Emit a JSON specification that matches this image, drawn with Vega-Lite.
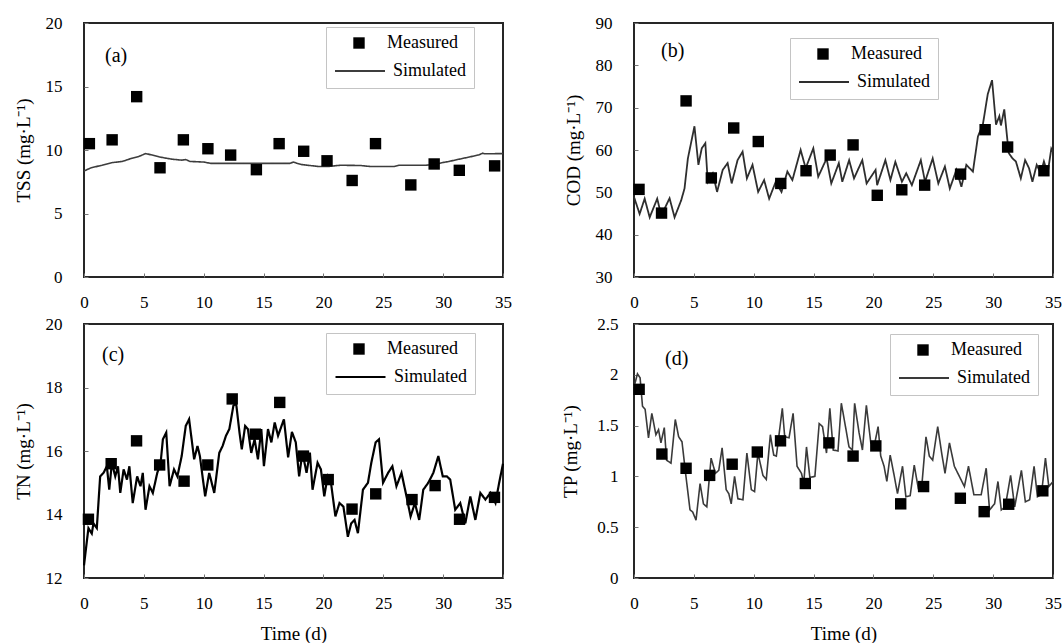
{
  "$schema": "https://vega.github.io/schema/vega-lite/v6.json",
  "background": "white",
  "padding": {"left": 13, "top": 13, "right": 0, "bottom": 0},
  "columns": 2,
  "spacing": {"row": 47, "column": 131},
  "bounds": "flush",
  "resolve": {"scale": {"shape": "independent", "strokeDash": "independent", "x": "independent", "y": "independent"}, "legend": {"shape": "independent", "strokeDash": "independent"}},
  "datasets": {
    "a_meas": [
      {"t": 0.45, "v": 10.5}, {"t": 2.35, "v": 10.8}, {"t": 4.4, "v": 14.2}, {"t": 6.35, "v": 8.6}, {"t": 8.3, "v": 10.8}, {"t": 10.35, "v": 10.1}, {"t": 12.25, "v": 9.6}, {"t": 14.4, "v": 8.45}, {"t": 16.3, "v": 10.5}, {"t": 18.35, "v": 9.9}, {"t": 20.3, "v": 9.15}, {"t": 22.4, "v": 7.6}, {"t": 24.35, "v": 10.5}, {"t": 27.3, "v": 7.25}, {"t": 29.25, "v": 8.9}, {"t": 31.35, "v": 8.4}, {"t": 34.3, "v": 8.75}
    ],
    "a_sim": [
      {"t": 0, "v": 8.35}, {"t": 0.6, "v": 8.6}, {"t": 1.5, "v": 8.8}, {"t": 2.3, "v": 9.0}, {"t": 3.2, "v": 9.1}, {"t": 4.0, "v": 9.35}, {"t": 4.6, "v": 9.5}, {"t": 5.15, "v": 9.72}, {"t": 5.7, "v": 9.6}, {"t": 6.3, "v": 9.45}, {"t": 7.4, "v": 9.27}, {"t": 8.2, "v": 9.2}, {"t": 8.5, "v": 9.25}, {"t": 8.85, "v": 9.1}, {"t": 10.0, "v": 9.05}, {"t": 10.6, "v": 8.95}, {"t": 12.8, "v": 8.95}, {"t": 15.0, "v": 8.95}, {"t": 17.2, "v": 8.95}, {"t": 17.5, "v": 9.05}, {"t": 17.8, "v": 8.95}, {"t": 18.2, "v": 8.85}, {"t": 19.6, "v": 8.7}, {"t": 20.4, "v": 8.7}, {"t": 21.4, "v": 8.8}, {"t": 23.1, "v": 8.78}, {"t": 23.9, "v": 8.7}, {"t": 25.9, "v": 8.7}, {"t": 26.3, "v": 8.8}, {"t": 28.5, "v": 8.8}, {"t": 29.3, "v": 8.85}, {"t": 29.9, "v": 9.0}, {"t": 30.5, "v": 9.1}, {"t": 31.3, "v": 9.27}, {"t": 32.2, "v": 9.45}, {"t": 33.0, "v": 9.62}, {"t": 33.3, "v": 9.75}, {"t": 33.5, "v": 9.7}, {"t": 35, "v": 9.72}
    ],
    "b_meas": [
      {"t": 0.42, "v": 50.7}, {"t": 2.3, "v": 45.1}, {"t": 4.35, "v": 71.6}, {"t": 6.46, "v": 53.4}, {"t": 8.33, "v": 65.2}, {"t": 10.38, "v": 62.0}, {"t": 12.26, "v": 52.1}, {"t": 14.37, "v": 55.1}, {"t": 16.39, "v": 58.8}, {"t": 18.3, "v": 61.2}, {"t": 20.32, "v": 49.3}, {"t": 22.37, "v": 50.6}, {"t": 24.28, "v": 51.7}, {"t": 27.28, "v": 54.3}, {"t": 29.33, "v": 64.8}, {"t": 31.21, "v": 60.7}, {"t": 34.24, "v": 55.1}
    ],
    "b_sim": [
      {"t": 0, "v": 48.9}, {"t": 0.47, "v": 44.9}, {"t": 0.89, "v": 48.5}, {"t": 1.31, "v": 44.1}, {"t": 1.94, "v": 48.5}, {"t": 2.28, "v": 44.5}, {"t": 2.97, "v": 48.6}, {"t": 3.39, "v": 44.1}, {"t": 3.94, "v": 48.1}, {"t": 4.22, "v": 50.9}, {"t": 4.5, "v": 58.0}, {"t": 5.05, "v": 65.6}, {"t": 5.38, "v": 56.5}, {"t": 5.66, "v": 60.4}, {"t": 5.96, "v": 61.6}, {"t": 6.16, "v": 52.5}, {"t": 6.58, "v": 54.5}, {"t": 6.94, "v": 50.1}, {"t": 7.41, "v": 55.3}, {"t": 7.82, "v": 56.9}, {"t": 8.16, "v": 52.1}, {"t": 8.65, "v": 57.6}, {"t": 9.07, "v": 59.6}, {"t": 9.43, "v": 53.3}, {"t": 9.9, "v": 56.5}, {"t": 10.37, "v": 50.1}, {"t": 10.87, "v": 52.9}, {"t": 11.29, "v": 48.5}, {"t": 11.84, "v": 52.5}, {"t": 12.32, "v": 50.1}, {"t": 12.81, "v": 54.9}, {"t": 13.23, "v": 52.9}, {"t": 13.92, "v": 60.0}, {"t": 14.34, "v": 55.7}, {"t": 14.98, "v": 60.4}, {"t": 15.39, "v": 53.7}, {"t": 16.09, "v": 58.0}, {"t": 16.48, "v": 52.1}, {"t": 17.11, "v": 56.9}, {"t": 17.4, "v": 52.5}, {"t": 17.97, "v": 57.6}, {"t": 18.38, "v": 53.3}, {"t": 19.07, "v": 57.6}, {"t": 19.43, "v": 52.1}, {"t": 20.18, "v": 55.3}, {"t": 20.31, "v": 51.7}, {"t": 21.0, "v": 57.6}, {"t": 21.42, "v": 52.9}, {"t": 21.83, "v": 57.2}, {"t": 22.38, "v": 52.5}, {"t": 22.74, "v": 54.5}, {"t": 23.21, "v": 51.7}, {"t": 23.96, "v": 57.6}, {"t": 24.31, "v": 52.5}, {"t": 24.95, "v": 58.0}, {"t": 25.42, "v": 52.1}, {"t": 25.97, "v": 56.1}, {"t": 26.38, "v": 50.9}, {"t": 26.93, "v": 55.3}, {"t": 27.35, "v": 51.3}, {"t": 27.76, "v": 56.5}, {"t": 28.31, "v": 54.9}, {"t": 28.73, "v": 63.2}, {"t": 29.14, "v": 66.0}, {"t": 29.55, "v": 73.2}, {"t": 29.91, "v": 76.5}, {"t": 30.24, "v": 66.0}, {"t": 30.52, "v": 68.0}, {"t": 30.65, "v": 65.8}, {"t": 30.93, "v": 69.6}, {"t": 31.3, "v": 59.3}, {"t": 31.62, "v": 58.0}, {"t": 31.9, "v": 57.3}, {"t": 32.31, "v": 53.3}, {"t": 32.67, "v": 57.6}, {"t": 33.0, "v": 55.7}, {"t": 33.28, "v": 52.5}, {"t": 33.64, "v": 56.5}, {"t": 33.97, "v": 54.5}, {"t": 34.24, "v": 57.3}, {"t": 34.55, "v": 54.5}, {"t": 34.86, "v": 60.3}, {"t": 35, "v": 59.5}
    ],
    "c_meas": [
      {"t": 0.37, "v": 13.85}, {"t": 2.27, "v": 15.6}, {"t": 4.39, "v": 16.32}, {"t": 6.32, "v": 15.56}, {"t": 8.36, "v": 15.05}, {"t": 10.34, "v": 15.56}, {"t": 12.38, "v": 17.64}, {"t": 14.31, "v": 16.53}, {"t": 16.35, "v": 17.53}, {"t": 18.33, "v": 15.84}, {"t": 20.4, "v": 15.1}, {"t": 22.39, "v": 14.17}, {"t": 24.37, "v": 14.65}, {"t": 27.4, "v": 14.47}, {"t": 29.33, "v": 14.91}, {"t": 31.37, "v": 13.85}, {"t": 34.29, "v": 14.54}
    ],
    "c_sim": [
      {"t": 0, "v": 12.4}, {"t": 0.37, "v": 13.57}, {"t": 0.65, "v": 13.4}, {"t": 0.79, "v": 13.72}, {"t": 1.07, "v": 13.57}, {"t": 1.35, "v": 15.2}, {"t": 1.63, "v": 15.31}, {"t": 1.91, "v": 15.52}, {"t": 2.11, "v": 14.78}, {"t": 2.33, "v": 15.63}, {"t": 2.61, "v": 15.2}, {"t": 2.84, "v": 15.52}, {"t": 3.03, "v": 14.68}, {"t": 3.31, "v": 15.42}, {"t": 3.59, "v": 15.1}, {"t": 3.79, "v": 15.52}, {"t": 4.07, "v": 14.36}, {"t": 4.44, "v": 15.2}, {"t": 4.72, "v": 14.89}, {"t": 4.91, "v": 15.31}, {"t": 5.14, "v": 14.15}, {"t": 5.47, "v": 14.89}, {"t": 5.75, "v": 14.68}, {"t": 6.12, "v": 15.31}, {"t": 6.4, "v": 15.63}, {"t": 6.59, "v": 16.37}, {"t": 6.87, "v": 16.58}, {"t": 7.15, "v": 14.89}, {"t": 7.52, "v": 15.42}, {"t": 7.8, "v": 15.2}, {"t": 8.16, "v": 15.84}, {"t": 8.5, "v": 16.79}, {"t": 8.78, "v": 17.0}, {"t": 9.2, "v": 15.74}, {"t": 9.48, "v": 16.16}, {"t": 9.68, "v": 15.84}, {"t": 10.12, "v": 14.57}, {"t": 10.46, "v": 15.31}, {"t": 10.88, "v": 14.68}, {"t": 11.3, "v": 15.94}, {"t": 11.58, "v": 16.16}, {"t": 11.86, "v": 16.48}, {"t": 12.14, "v": 16.69}, {"t": 12.48, "v": 17.43}, {"t": 12.71, "v": 17.49}, {"t": 12.99, "v": 16.58}, {"t": 13.18, "v": 16.05}, {"t": 13.46, "v": 16.79}, {"t": 13.69, "v": 16.69}, {"t": 13.97, "v": 15.94}, {"t": 14.25, "v": 16.37}, {"t": 14.53, "v": 15.74}, {"t": 14.81, "v": 16.69}, {"t": 15.03, "v": 15.52}, {"t": 15.37, "v": 16.69}, {"t": 15.65, "v": 16.27}, {"t": 15.93, "v": 16.9}, {"t": 16.21, "v": 16.48}, {"t": 16.7, "v": 17.0}, {"t": 17.05, "v": 15.8}, {"t": 17.37, "v": 16.6}, {"t": 17.69, "v": 16.27}, {"t": 17.97, "v": 15.2}, {"t": 18.25, "v": 15.95}, {"t": 18.59, "v": 15.31}, {"t": 18.87, "v": 15.95}, {"t": 19.09, "v": 14.78}, {"t": 19.51, "v": 15.63}, {"t": 19.79, "v": 15.42}, {"t": 20.07, "v": 14.57}, {"t": 20.35, "v": 15.2}, {"t": 20.63, "v": 15.0}, {"t": 21.0, "v": 13.94}, {"t": 21.34, "v": 14.36}, {"t": 21.67, "v": 14.25}, {"t": 22.04, "v": 13.3}, {"t": 22.32, "v": 13.72}, {"t": 22.6, "v": 13.83}, {"t": 22.88, "v": 13.41}, {"t": 23.3, "v": 14.78}, {"t": 23.72, "v": 15.0}, {"t": 24.0, "v": 15.63}, {"t": 24.36, "v": 16.27}, {"t": 24.64, "v": 16.37}, {"t": 24.98, "v": 15.0}, {"t": 25.4, "v": 15.31}, {"t": 25.76, "v": 15.52}, {"t": 26.1, "v": 14.89}, {"t": 26.52, "v": 15.31}, {"t": 26.94, "v": 14.57}, {"t": 27.28, "v": 13.94}, {"t": 27.64, "v": 14.36}, {"t": 28.0, "v": 13.83}, {"t": 28.34, "v": 14.78}, {"t": 28.76, "v": 15.0}, {"t": 29.18, "v": 15.31}, {"t": 29.6, "v": 15.84}, {"t": 29.97, "v": 15.2}, {"t": 30.31, "v": 15.2}, {"t": 30.59, "v": 15.1}, {"t": 31.01, "v": 14.15}, {"t": 31.43, "v": 14.36}, {"t": 31.85, "v": 13.72}, {"t": 32.27, "v": 14.57}, {"t": 32.69, "v": 13.83}, {"t": 33.11, "v": 14.68}, {"t": 33.53, "v": 14.47}, {"t": 33.95, "v": 14.68}, {"t": 34.37, "v": 14.36}, {"t": 34.68, "v": 15.0}, {"t": 35, "v": 15.6}
    ],
    "d_meas": [
      {"t": 0.43, "v": 1.857}, {"t": 2.33, "v": 1.22}, {"t": 4.35, "v": 1.08}, {"t": 6.32, "v": 1.01}, {"t": 8.2, "v": 1.12}, {"t": 10.3, "v": 1.24}, {"t": 12.24, "v": 1.35}, {"t": 14.31, "v": 0.93}, {"t": 16.28, "v": 1.33}, {"t": 18.3, "v": 1.2}, {"t": 20.2, "v": 1.3}, {"t": 22.28, "v": 0.73}, {"t": 24.19, "v": 0.9}, {"t": 27.26, "v": 0.785}, {"t": 29.25, "v": 0.653}, {"t": 31.3, "v": 0.726}, {"t": 34.15, "v": 0.858}
    ],
    "d_sim": [
      {"t": 0, "v": 1.88}, {"t": 0.29, "v": 2.01}, {"t": 0.51, "v": 1.97}, {"t": 0.71, "v": 1.69}, {"t": 0.93, "v": 1.66}, {"t": 1.21, "v": 1.38}, {"t": 1.49, "v": 1.62}, {"t": 1.83, "v": 1.41}, {"t": 2.05, "v": 1.46}, {"t": 2.25, "v": 1.33}, {"t": 2.53, "v": 1.48}, {"t": 2.72, "v": 1.16}, {"t": 3.09, "v": 1.13}, {"t": 3.45, "v": 1.56}, {"t": 3.73, "v": 1.39}, {"t": 4.01, "v": 1.34}, {"t": 4.34, "v": 1.0}, {"t": 4.68, "v": 0.67}, {"t": 4.9, "v": 0.65}, {"t": 5.18, "v": 0.57}, {"t": 5.52, "v": 0.93}, {"t": 5.8, "v": 0.73}, {"t": 6.08, "v": 0.7}, {"t": 6.44, "v": 1.18}, {"t": 6.8, "v": 1.03}, {"t": 7.08, "v": 1.06}, {"t": 7.36, "v": 1.28}, {"t": 7.7, "v": 0.87}, {"t": 7.92, "v": 0.83}, {"t": 8.12, "v": 0.73}, {"t": 8.4, "v": 1.0}, {"t": 8.68, "v": 0.78}, {"t": 9.1, "v": 0.77}, {"t": 9.43, "v": 1.23}, {"t": 9.8, "v": 0.87}, {"t": 10.07, "v": 0.85}, {"t": 10.35, "v": 1.23}, {"t": 10.77, "v": 1.01}, {"t": 11.05, "v": 0.97}, {"t": 11.39, "v": 1.41}, {"t": 11.67, "v": 1.21}, {"t": 11.89, "v": 1.2}, {"t": 12.39, "v": 1.67}, {"t": 12.59, "v": 1.39}, {"t": 12.95, "v": 1.38}, {"t": 13.29, "v": 1.62}, {"t": 13.62, "v": 1.1}, {"t": 13.99, "v": 1.03}, {"t": 14.18, "v": 0.93}, {"t": 14.41, "v": 1.29}, {"t": 14.69, "v": 0.99}, {"t": 15.11, "v": 1.0}, {"t": 15.47, "v": 1.52}, {"t": 15.75, "v": 1.49}, {"t": 16.08, "v": 1.23}, {"t": 16.36, "v": 1.67}, {"t": 16.64, "v": 1.26}, {"t": 17.04, "v": 1.25}, {"t": 17.32, "v": 1.72}, {"t": 17.68, "v": 1.48}, {"t": 17.96, "v": 1.29}, {"t": 18.24, "v": 1.26}, {"t": 18.43, "v": 1.72}, {"t": 18.8, "v": 1.43}, {"t": 19.08, "v": 1.26}, {"t": 19.41, "v": 1.7}, {"t": 19.78, "v": 1.33}, {"t": 20.05, "v": 1.29}, {"t": 20.39, "v": 1.49}, {"t": 20.61, "v": 1.2}, {"t": 20.89, "v": 1.1}, {"t": 21.12, "v": 0.95}, {"t": 21.4, "v": 1.21}, {"t": 21.73, "v": 1.01}, {"t": 22.01, "v": 0.83}, {"t": 22.43, "v": 1.1}, {"t": 22.71, "v": 0.8}, {"t": 23.07, "v": 0.81}, {"t": 23.41, "v": 1.11}, {"t": 23.75, "v": 0.88}, {"t": 24.02, "v": 0.88}, {"t": 24.39, "v": 1.39}, {"t": 24.67, "v": 1.2}, {"t": 24.95, "v": 1.16}, {"t": 25.37, "v": 1.49}, {"t": 25.7, "v": 1.23}, {"t": 25.98, "v": 1.03}, {"t": 26.35, "v": 1.33}, {"t": 26.76, "v": 1.1}, {"t": 27.6, "v": 0.9}, {"t": 27.94, "v": 1.1}, {"t": 28.39, "v": 0.82}, {"t": 29.0, "v": 0.82}, {"t": 29.42, "v": 1.08}, {"t": 29.7, "v": 0.67}, {"t": 30.12, "v": 0.73}, {"t": 30.4, "v": 0.95}, {"t": 30.68, "v": 0.67}, {"t": 31.01, "v": 0.7}, {"t": 31.46, "v": 1.01}, {"t": 31.8, "v": 0.7}, {"t": 32.36, "v": 1.06}, {"t": 32.69, "v": 0.75}, {"t": 33.05, "v": 0.77}, {"t": 33.42, "v": 1.1}, {"t": 33.7, "v": 0.8}, {"t": 34.03, "v": 0.82}, {"t": 34.37, "v": 1.18}, {"t": 34.65, "v": 0.9}, {"t": 35, "v": 0.95}
    ]
  },
  "concat": [
    {
      "width": 419, "height": 254,
      "title": {"text": "(a)", "offset": -52, "dx": 21},
      "encoding": {
        "x": {"field": "t", "type": "quantitative", "scale": {"domain": [0, 35], "nice": false}, "axis": {"values": [0, 5, 10, 15, 20, 25, 30, 35], "title": null}},
        "y": {"field": "v", "type": "quantitative", "scale": {"domain": [0, 20], "nice": false}, "axis": {"values": [0, 5, 10, 15, 20], "title": "TSS (mg·L⁻¹)"}}
      },
      "layer": [
        {"data": {"name": "a_sim"}, "mark": {"type": "line", "color": "#3d3d3d", "strokeWidth": 1.6},
          "encoding": {"strokeDash": {"datum": "Simulated", "type": "nominal", "scale": {"range": [[1, 0]]},
            "legend": {"orient": "none", "legendX": 242, "legendY": 4, "title": "\u00a0", "titleFontSize": 18, "titlePadding": 9, "symbolSize": 2500, "symbolType": "stroke", "symbolStrokeWidth": 2, "symbolStrokeColor": "#3d3d3d", "clipHeight": 18, "padding": 8, "strokeColor": "#c4c4c4", "labelOffset": 7}}}},
        {"data": {"name": "a_meas"}, "mark": {"type": "point", "shape": "square", "filled": true, "color": "#000000", "size": 130, "opacity": 1},
          "encoding": {"shape": {"datum": "Measured", "type": "nominal", "scale": {"range": ["square"]},
            "legend": {"orient": "none", "legendX": 266, "legendY": 11, "title": null, "symbolSize": 130, "clipHeight": 18, "padding": 0, "labelOffset": 19}}}}
      ]
    },
    {
      "width": 419, "height": 254,
      "title": {"text": "(b)", "offset": -47, "dx": 27},
      "encoding": {
        "x": {"field": "t", "type": "quantitative", "scale": {"domain": [0, 35], "nice": false}, "axis": {"values": [0, 5, 10, 15, 20, 25, 30, 35], "title": null}},
        "y": {"field": "v", "type": "quantitative", "scale": {"domain": [30, 90], "nice": false}, "axis": {"values": [30, 40, 50, 60, 70, 80, 90], "title": "COD  (mg·L⁻¹)"}}
      },
      "layer": [
        {"data": {"name": "b_sim"}, "mark": {"type": "line", "color": "#2e2e2e", "strokeWidth": 1.8},
          "encoding": {"strokeDash": {"datum": "Simulated", "type": "nominal", "scale": {"range": [[1, 0]]},
            "legend": {"orient": "none", "legendX": 156, "legendY": 15, "title": "\u00a0", "titleFontSize": 18, "titlePadding": 9, "symbolSize": 2500, "symbolType": "stroke", "symbolStrokeWidth": 2, "symbolStrokeColor": "#2e2e2e", "clipHeight": 18, "padding": 8, "strokeColor": "#c4c4c4", "labelOffset": 7}}}},
        {"data": {"name": "b_meas"}, "mark": {"type": "point", "shape": "square", "filled": true, "color": "#000000", "size": 130, "opacity": 1},
          "encoding": {"shape": {"datum": "Measured", "type": "nominal", "scale": {"range": ["square"]},
            "legend": {"orient": "none", "legendX": 180, "legendY": 22, "title": null, "symbolSize": 130, "clipHeight": 18, "padding": 0, "labelOffset": 19}}}}
      ]
    },
    {
      "width": 419, "height": 254,
      "title": {"text": "(c)", "offset": -50, "dx": 18},
      "encoding": {
        "x": {"field": "t", "type": "quantitative", "scale": {"domain": [0, 35], "nice": false}, "axis": {"values": [0, 5, 10, 15, 20, 25, 30, 35], "title": "Time (d)"}},
        "y": {"field": "v", "type": "quantitative", "scale": {"domain": [12, 20], "nice": false}, "axis": {"values": [12, 14, 16, 18, 20], "title": "TN (mg·L⁻¹)"}}
      },
      "layer": [
        {"data": {"name": "c_sim"}, "mark": {"type": "line", "color": "#000000", "strokeWidth": 2.2},
          "encoding": {"strokeDash": {"datum": "Simulated", "type": "nominal", "scale": {"range": [[1, 0]]},
            "legend": {"orient": "none", "legendX": 242, "legendY": 9, "title": "\u00a0", "titleFontSize": 18, "titlePadding": 9, "symbolSize": 2500, "symbolType": "stroke", "symbolStrokeWidth": 2.2, "symbolStrokeColor": "#000000", "clipHeight": 18, "padding": 8, "strokeColor": "#c4c4c4", "labelOffset": 7}}}},
        {"data": {"name": "c_meas"}, "mark": {"type": "point", "shape": "square", "filled": true, "color": "#000000", "size": 130, "opacity": 1},
          "encoding": {"shape": {"datum": "Measured", "type": "nominal", "scale": {"range": ["square"]},
            "legend": {"orient": "none", "legendX": 266, "legendY": 16, "title": null, "symbolSize": 130, "clipHeight": 18, "padding": 0, "labelOffset": 19}}}}
      ]
    },
    {
      "width": 419, "height": 254,
      "title": {"text": "(d)", "offset": -54, "dx": 31},
      "encoding": {
        "x": {"field": "t", "type": "quantitative", "scale": {"domain": [0, 35], "nice": false}, "axis": {"values": [0, 5, 10, 15, 20, 25, 30, 35], "title": "Time (d)"}},
        "y": {"field": "v", "type": "quantitative", "scale": {"domain": [0, 2.5], "nice": false}, "axis": {"values": [0, 0.5, 1, 1.5, 2, 2.5], "format": "~g", "labelPadding": 20, "titlePadding": 16, "title": "TP (mg·L⁻¹)"}}
      },
      "layer": [
        {"data": {"name": "d_sim"}, "mark": {"type": "line", "color": "#3a3a3a", "strokeWidth": 1.6},
          "encoding": {"strokeDash": {"datum": "Simulated", "type": "nominal", "scale": {"range": [[1, 0]]},
            "legend": {"orient": "none", "legendX": 256, "legendY": 10, "title": "\u00a0", "titleFontSize": 18, "titlePadding": 9, "symbolSize": 2500, "symbolType": "stroke", "symbolStrokeWidth": 2, "symbolStrokeColor": "#3a3a3a", "clipHeight": 18, "padding": 8, "strokeColor": "#c4c4c4", "labelOffset": 7}}}},
        {"data": {"name": "d_meas"}, "mark": {"type": "point", "shape": "square", "filled": true, "color": "#000000", "size": 130, "opacity": 1},
          "encoding": {"shape": {"datum": "Measured", "type": "nominal", "scale": {"range": ["square"]},
            "legend": {"orient": "none", "legendX": 280, "legendY": 17, "title": null, "symbolSize": 130, "clipHeight": 18, "padding": 0, "labelOffset": 19}}}}
      ]
    }
  ],
  "config": {
    "font": "Liberation Serif",
    "view": {"stroke": "#262626", "strokeWidth": 2},
    "axis": {"domain": false, "grid": false, "tickSize": -4, "tickColor": "#777777", "tickWidth": 1, "labelFont": "Liberation Serif", "labelFontSize": 17, "labelColor": "#000000", "titleFont": "Liberation Serif", "titleFontSize": 19, "titleFontWeight": "normal", "titleColor": "#000000", "labelFlush": false, "labelOverlap": false},
    "axisX": {"labelPadding": 21, "titlePadding": 13},
    "axisY": {"labelPadding": 26, "titlePadding": 12},
    "legend": {"labelFont": "Liberation Serif", "labelFontSize": 18, "labelColor": "#000000", "titleFont": "Liberation Serif"},
    "title": {"font": "Liberation Serif", "fontSize": 20, "fontWeight": "normal", "color": "#000000", "anchor": "start", "frame": "group", "baseline": "middle"}
  }
}
